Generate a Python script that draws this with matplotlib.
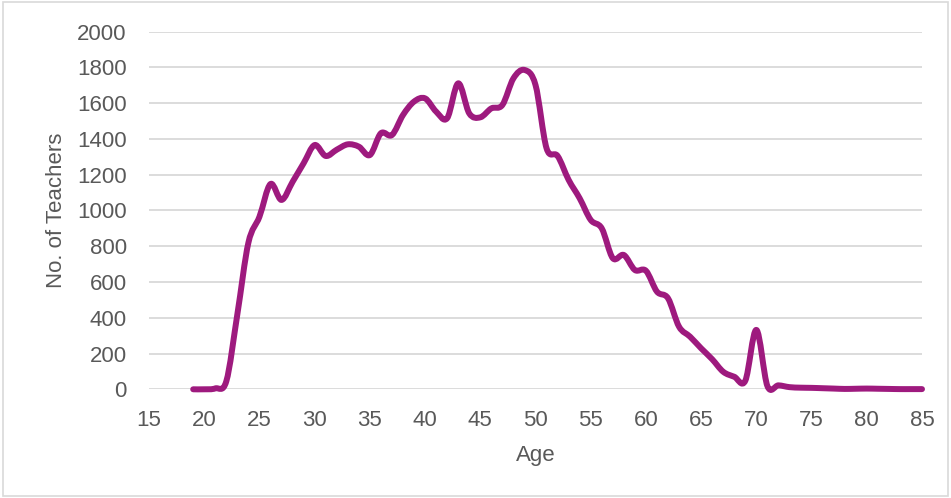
import matplotlib
matplotlib.use("Agg")
import matplotlib.pyplot as plt
from matplotlib.path import Path
from matplotlib.patches import PathPatch, Rectangle
import numpy as np

plt.rcParams["font.family"] = ["Liberation Sans", "DejaVu Sans"]

ages = list(range(19, 86))
teachers = [0, 0, 5, 45, 420, 820, 965, 1148, 1059, 1160,
            1264, 1366, 1305, 1340, 1370, 1357, 1310, 1432, 1422, 1534,
            1609, 1627, 1553, 1516, 1711, 1543, 1521, 1571, 1590, 1739,
            1786, 1702, 1348, 1305, 1171, 1068, 947, 900, 733, 751,
            667, 663, 546, 509, 350, 294, 229, 168, 98, 70,
            48, 332, 18, 22, 12, 9, 8, 6, 4, 2,
            3, 4, 3, 2, 1, 1, 1]
x_ticks = list(range(15, 90, 5))
y_ticks = list(range(0, 2200, 200))

line_color = "#9E1A7E"
text_color = "#595959"
grid_color = "#D9D9D9"


def smooth_path(xs, ys):
    # Excel-like smoothed line: Catmull-Rom segments as cubic Beziers
    pts = np.column_stack([xs, ys]).astype(float)
    padded = np.vstack([pts[0], pts, pts[-1]])
    verts = [pts[0]]
    codes = [Path.MOVETO]
    for i in range(len(pts) - 1):
        p0, p1, p2, p3 = padded[i], padded[i + 1], padded[i + 2], padded[i + 3]
        verts += [p1 + (p2 - p0) / 6, p2 - (p3 - p1) / 6, p2]
        codes += [Path.CURVE4] * 3
    return Path(verts, codes)


fig = plt.figure(figsize=(9.51, 4.98), dpi=100)
ax = fig.add_axes([0.1567, 0.2183, 0.8128, 0.7181])

ax.add_patch(PathPatch(smooth_path(ages, teachers), facecolor="none",
                       edgecolor=line_color, lw=4.3, capstyle="round",
                       joinstyle="round", clip_on=False, zorder=3))

ax.set_xlim(15, 85)
ax.set_ylim(0, 2000)
ax.set_xticks(x_ticks)
ax.set_yticks(y_ticks)
ax.grid(axis="y", color=grid_color, lw=1.3)
ax.set_axisbelow(True)
for s in ax.spines.values():
    s.set_visible(False)
ax.tick_params(length=0, labelsize=16, labelcolor=text_color)
ax.tick_params(axis="y", pad=16)
ax.tick_params(axis="x", pad=15)

ax.set_xlabel("Age", fontsize=16, color=text_color, labelpad=10)
ax.set_ylabel("No. of Teachers", fontsize=16, color=text_color, labelpad=7)

fig.patches.append(Rectangle((0.003, 0.005), 0.994, 0.99, transform=fig.transFigure,
                             fill=False, edgecolor=grid_color, lw=1.2))

fig.savefig("out.png", dpi=100)
